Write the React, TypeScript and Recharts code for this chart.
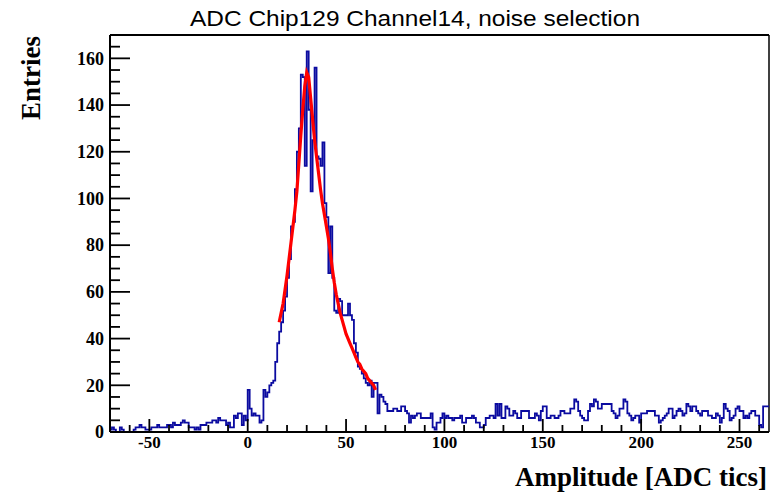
/**
 * AdcNoiseHistogram — ROOT-style histogram of ADC amplitudes for one channel,
 * with the fitted noise curve drawn over the peak.
 */

import React from "react";
import {
  LineChart,
  Line,
  XAxis,
  YAxis,
  ReferenceLine,
} from "recharts";

// histogram binning: 1 ADC tic per bin, first bin starts at -70
const BIN_START = -70;
const X_MAX = 265;
const Y_MAX = 170;

// entries per bin, -70 .. 264 (ten bins per row)
const COUNTS = [
  1, 2, 1, 0, 0, 2, 1, 0, 0, 0, // -70
  0, 0, 1, 2, 2, 3, 2, 2, 1, 1, // -60
  1, 2, 2, 2, 3, 2, 2, 2, 2, 3, // -50
  3, 2, 4, 3, 3, 3, 4, 5, 4, 4, // -40
  2, 2, 2, 1, 2, 1, 3, 3, 3, 4, // -30
  4, 4, 5, 5, 4, 6, 5, 5, 5, 3, // -20
  4, 2, 2, 7, 6, 8, 8, 3, 7, 5, // -10
  18, 10, 7, 8, 7, 7, 4, 5, 18, 15, // 0
  17, 20, 21, 22, 30, 38, 43, 47, 52, 58, // 10
  66, 74, 88, 90, 104, 120, 130, 153, 152, 114, // 20
  163, 138, 103, 125, 156, 118, 117, 114, 124, 98, // 30
  92, 68, 88, 66, 52, 51, 57, 56, 50, 50, // 40
  50, 55, 50, 48, 38, 34, 28, 27, 25, 23, // 50
  21, 20, 22, 15, 21, 21, 8, 16, 15, 13, // 60
  12, 9, 9, 9, 10, 10, 9, 9, 11, 11, // 70
  9, 8, 4, 7, 6, 7, 8, 8, 6, 6, // 80
  6, 6, 6, 8, 2, 1, 4, 4, 6, 8, // 90
  6, 7, 6, 6, 5, 6, 6, 6, 7, 4, // 100
  4, 6, 6, 6, 7, 6, 4, 4, 2, 2, // 110
  3, 6, 6, 7, 7, 6, 12, 7, 12, 6, // 120
  6, 11, 10, 7, 7, 9, 8, 6, 6, 9, // 130
  9, 9, 9, 6, 6, 6, 8, 7, 5, 9, // 140
  11, 11, 6, 6, 7, 7, 6, 6, 7, 9, // 150
  9, 8, 8, 8, 10, 10, 14, 13, 9, 7, // 160
  6, 5, 5, 9, 12, 11, 14, 13, 10, 10, // 170
  12, 12, 12, 12, 12, 9, 8, 6, 7, 10, // 180
  10, 14, 13, 8, 7, 5, 6, 7, 7, 4, // 190
  8, 8, 8, 9, 9, 9, 9, 7, 7, 4, // 200
  5, 6, 7, 8, 10, 10, 6, 7, 9, 10, // 210
  9, 7, 8, 12, 11, 9, 11, 11, 9, 8, // 220
  7, 9, 9, 9, 7, 7, 6, 6, 8, 7, // 230
  4, 6, 12, 10, 9, 5, 6, 7, 10, 11, // 240
  9, 9, 6, 7, 6, 8, 9, 9, 7, 7, // 250
  3, 2, 11, 11, 11, // 260
];

// fitted curve
const FIT_X = [
  16, 17, 18, 19, 20, 21, 22, 23, 24, 25,
  26, 27, 28, 29, 30, 31, 32, 33, 34, 35,
  36, 37, 38, 39, 40, 41, 42, 43, 44, 45,
  46, 47, 48, 49, 50, 51, 52, 53, 54, 55,
  56, 57, 58, 59, 60, 61, 62, 63, 64, 65,
];
const FIT_Y = [
  47, 51, 55, 61, 67, 74, 81, 88, 95, 103,
  115, 127, 138, 148, 154, 152, 143, 134, 125, 118,
  111, 104, 98, 93, 88, 83, 77, 70, 64, 59,
  55, 51, 48, 45, 42, 40, 38, 36, 34, 32,
  30, 29, 27, 26, 25, 23, 22, 21, 20, 18,
];

const X_TICKS = [
  -60, -50, -40, -30, -20, -10, 0, 10, 20, 30, 40, 50, 60, 70, 80, 90, 100,
  110, 120, 130, 140, 150, 160, 170, 180, 190, 200, 210, 220, 230, 240, 250, 260,
];
const Y_TICKS = [
  0, 5, 10, 15, 20, 25, 30, 35, 40, 45, 50, 55, 60, 65, 70, 75, 80, 85,
  90, 95, 100, 105, 110, 115, 120, 125, 130, 135, 140, 145, 150, 155, 160, 165, 170,
];

const TITLE = "ADC Chip129 Channel14, noise selection";
const X_TITLE = "Amplitude [ADC tics]";
const Y_TITLE = "Entries";

const SERIF = "'Liberation Serif', 'Times New Roman', serif";
const SANS = "'Liberation Sans', Arial, sans-serif";

const histData = [
  ...COUNTS.map((c, i) => ({ x: BIN_START + i, count: c })),
  { x: X_MAX, count: COUNTS[COUNTS.length - 1] },
];
const fitData = FIT_X.map((x, i) => ({ x, fit: FIT_Y[i] }));

// ROOT draws ticks inside the frame
function XTick(props: any) {
  const { x, y, payload } = props;
  const major = payload.value % 50 === 0;
  return (
    <g>
      <line x1={x} x2={x} y1={y} y2={y - (major ? 13 : 7)} stroke="#000" strokeWidth={1.8} />
      {major && (
        <text
          x={x}
          y={y + 16}
          textAnchor="middle"
          fontFamily={SERIF}
          fontWeight="bold"
          fontSize={17}
          fill="#000"
        >
          {payload.value}
        </text>
      )}
    </g>
  );
}

function YTick(props: any) {
  const { x, y, payload } = props;
  const major = payload.value % 20 === 0;
  const showLabel = major && payload.value <= 160;
  return (
    <g>
      <line x1={x} x2={x + (major ? 20 : 10)} y1={y} y2={y} stroke="#000" strokeWidth={1.8} />
      {showLabel && (
        <text
          x={x - 6}
          y={y}
          dy="0.35em"
          textAnchor="end"
          fontFamily={SERIF}
          fontWeight="bold"
          fontSize={18}
          fill="#000"
        >
          {payload.value}
        </text>
      )}
    </g>
  );
}

export default function App() {
  return (
    <div
      style={{
        position: "absolute",
        left: 0,
        top: 0,
        width: 779,
        height: 492,
        background: "#fff",
      }}
    >
      <LineChart
        width={779}
        height={492}
        data={histData}
        margin={{ top: 35, right: 10, left: 0, bottom: 0 }}
      >
        <XAxis
          type="number"
          dataKey="x"
          domain={[BIN_START, X_MAX]}
          allowDataOverflow
          ticks={X_TICKS}
          interval={0}
          tick={<XTick />}
          tickLine={false}
          tickSize={0}
          tickMargin={0}
          axisLine={{ stroke: "#000", strokeWidth: 2 }}
          height={60}
        />
        <YAxis
          type="number"
          domain={[0, Y_MAX]}
          allowDataOverflow
          ticks={Y_TICKS}
          interval={0}
          tick={<YTick />}
          tickLine={false}
          tickSize={0}
          tickMargin={0}
          axisLine={{ stroke: "#000", strokeWidth: 2 }}
          width={110}
        />
        <ReferenceLine y={Y_MAX} stroke="#000" strokeWidth={2} />
        <ReferenceLine x={X_MAX} stroke="#000" strokeWidth={1.5} />
        <Line
          type="stepAfter"
          dataKey="count"
          stroke="#0b0ba0"
          strokeWidth={1.8}
          dot={false}
          activeDot={false}
          isAnimationActive={false}
        />
        <Line
          data={fitData}
          type="linear"
          dataKey="fit"
          stroke="#ff0000"
          strokeWidth={3.2}
          dot={false}
          activeDot={false}
          isAnimationActive={false}
        />
      </LineChart>
      <svg
        width={779}
        height={492}
        style={{ position: "absolute", left: 0, top: 0, pointerEvents: "none" }}
      >
        <text
          x={415}
          y={26}
          textAnchor="middle"
          fontFamily={SANS}
          fontSize={22}
          textLength={450}
          lengthAdjust="spacingAndGlyphs"
          fill="#000"
        >
          {TITLE}
        </text>
        <text
          x={40}
          y={78}
          transform="rotate(-90, 40, 78)"
          textAnchor="middle"
          fontFamily={SERIF}
          fontWeight="bold"
          fontSize={27}
          fill="#000"
        >
          {Y_TITLE}
        </text>
        <text
          x={767}
          y={486}
          textAnchor="end"
          fontFamily={SERIF}
          fontWeight="bold"
          fontSize={27}
          fill="#000"
        >
          {X_TITLE}
        </text>
      </svg>
    </div>
  );
}
